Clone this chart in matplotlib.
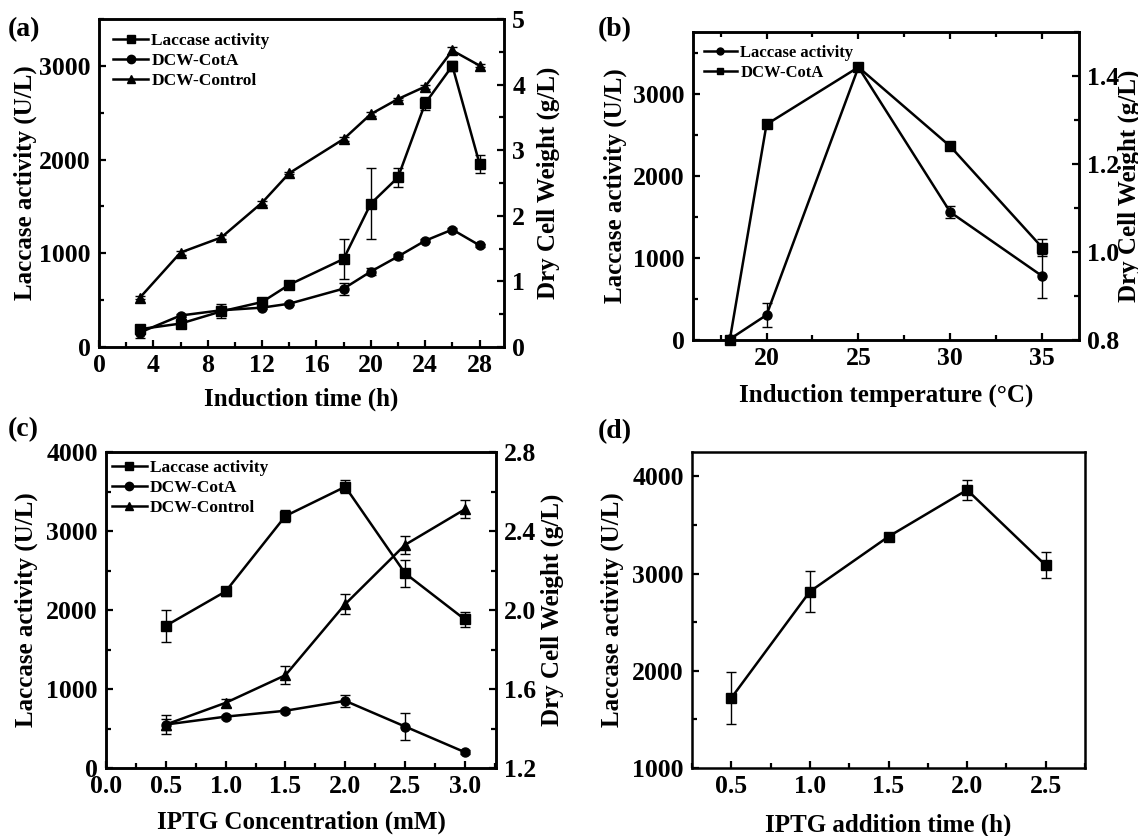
import matplotlib
matplotlib.use("Agg")
import matplotlib.pyplot as plt
from matplotlib.ticker import MultipleLocator, FormatStrFormatter
from matplotlib.lines import Line2D

plt.rcParams['font.family'] = ['Liberation Serif', 'DejaVu Serif']
plt.rcParams['font.weight'] = 'bold'
plt.rcParams['axes.labelweight'] = 'bold'

# (a) induction time
time_h = [3, 6, 9, 12, 14, 18, 20, 22, 24, 26, 28]
lac_a = [190, 250, 380, 480, 665, 940, 1530, 1810, 2600, 3000, 1955]
lac_a_err = [50, 50, 75, 25, 20, 210, 375, 100, 70, 50, 95]
cota_a = [0.22, 0.48, 0.56, 0.60, 0.66, 0.89, 1.15, 1.38, 1.62, 1.79, 1.55]
cota_a_err = [0.08, 0.03, 0.03, 0.02, 0.02, 0.09, 0.05, 0.04, 0.02, 0.02, 0.02]
ctrl_a = [0.75, 1.44, 1.67, 2.20, 2.65, 3.17, 3.55, 3.78, 3.97, 4.52, 4.29]
ctrl_a_err = [0.02, 0.03, 0.03, 0.03, 0.02, 0.03, 0.03, 0.02, 0.03, 0.05, 0.02]

# (b) induction temperature
temp_c = [18, 20, 25, 30, 35]
lac_b = [10, 305, 3330, 1560, 780]
lac_b_err = [0, 145, 40, 75, 270]
cota_b = [0.80, 1.29, 1.42, 1.24, 1.01]
cota_b_err = [0.0, 0.004, 0.006, 0.006, 0.02]

# (c) IPTG concentration
iptg_mm = [0.5, 1.0, 1.5, 2.0, 2.5, 3.0]
lac_c = [1800, 2235, 3190, 3560, 2465, 1880]
lac_c_err = [200, 60, 70, 85, 170, 90]
cota_c = [1.42, 1.46, 1.49, 1.54, 1.41, 1.28]
cota_c_err = [0.03, 0.01, 0.01, 0.03, 0.07, 0.01]
ctrl_c = [1.42, 1.53, 1.67, 2.03, 2.33, 2.51]
ctrl_c_err = [0.05, 0.02, 0.046, 0.05, 0.046, 0.045]

# (d) IPTG addition time
add_h = [0.5, 1.0, 1.5, 2.0, 2.5]
lac_d = [1720, 2815, 3380, 3860, 3085]
lac_d_err = [265, 210, 15, 105, 135]

W, H = 1138, 836
TICK_FS = 18.5
LABEL_FS = 18
fig = plt.figure(figsize=(W / 100, H / 100), dpi=100)


def make_ax(l, t, r, b):
    return fig.add_axes([l / W, 1 - b / H, (r - l) / W, (b - t) / H])


def style(ax, right=False, top=False):
    for s in ax.spines.values():
        s.set_linewidth(1.8)
    ax.tick_params(which='both', direction='in', width=1.6, labelsize=TICK_FS,
                   top=top, bottom=True, right=right, left=not right,
                   labelleft=not right, labelright=right)
    ax.tick_params(axis='y', which='both', pad=6)
    ax.tick_params(axis='x', which='both', pad=5)
    ax.tick_params(which='major', length=5)
    ax.tick_params(which='minor', length=3.5)


def series(ax, x, y, err, marker, ms=6.5):
    ax.errorbar(x, y, yerr=err, color='black', lw=1.8, marker=marker, ms=ms,
                ecolor='black', elinewidth=1.0, capsize=3.5, capthick=1.0,
                clip_on=False, zorder=3)


def leg(ax, labels, markers, x, y, fs=12.5, ms=6):
    handles = [Line2D([], [], color='black', lw=1.8, marker=m, ms=ms) for m in markers]
    ax.legend(handles, labels, loc='upper left', bbox_to_anchor=(x, y), frameon=False,
              fontsize=fs, handlelength=2.0, handletextpad=0.2, labelspacing=0.22,
              borderpad=0, borderaxespad=0)


# ---- (a)
ax = make_ax(99, 19, 504, 347)
ax2 = ax.twinx()
series(ax, time_h, lac_a, lac_a_err, 's')
series(ax2, time_h, cota_a, cota_a_err, 'o')
series(ax2, time_h, ctrl_a, ctrl_a_err, '^')
ax.set_xlim(0, 29.8)
ax.set_ylim(0, 3500)
ax2.set_ylim(0, 5)
ax.xaxis.set_major_locator(MultipleLocator(4))
ax.xaxis.set_minor_locator(MultipleLocator(2))
ax.yaxis.set_major_locator(MultipleLocator(1000))
ax.yaxis.set_minor_locator(MultipleLocator(500))
ax2.yaxis.set_major_locator(MultipleLocator(1))
ax2.yaxis.set_minor_locator(MultipleLocator(0.5))
style(ax)
style(ax2, right=True)
ax.set_xlabel('Induction time (h)', fontsize=LABEL_FS)
ax.set_ylabel('Laccase activity (U/L)', fontsize=LABEL_FS)
ax2.set_ylabel('Dry Cell Weight (g/L)', fontsize=LABEL_FS)
ax.xaxis.set_label_coords(0.5, -0.125)
ax.yaxis.set_label_coords(-0.153, 0.5)
ax2.yaxis.set_label_coords(1.081, 0.5)
leg(ax2, ['Laccase activity', 'DCW-CotA', 'DCW-Control'], ['s', 'o', '^'], 0.035, 0.958)
fig.text(8 / W, 1 - 30 / H, '(a)', fontsize=20, fontweight='bold', va='center')

# ---- (b)
ax = make_ax(693, 32, 1079, 340)
ax2 = ax.twinx()
series(ax, temp_c, lac_b, lac_b_err, 'o')
series(ax2, temp_c, cota_b, cota_b_err, 's')
ax.set_xlim(16, 37)
ax.set_ylim(0, 3760)
ax2.set_ylim(0.8, 1.5)
ax.xaxis.set_major_locator(MultipleLocator(5))
ax.xaxis.set_minor_locator(MultipleLocator(2.5))
ax.yaxis.set_major_locator(MultipleLocator(1000))
ax.yaxis.set_minor_locator(MultipleLocator(500))
ax2.yaxis.set_major_locator(MultipleLocator(0.2))
ax2.yaxis.set_minor_locator(MultipleLocator(0.1))
style(ax, top=True)
style(ax2, right=True)
ax2.yaxis.set_major_formatter(FormatStrFormatter('%.1f'))
ax.set_xlabel('Induction temperature (°C)', fontsize=LABEL_FS)
ax.set_ylabel('Laccase activity (U/L)', fontsize=LABEL_FS)
ax2.set_ylabel('Dry Cell Weight (g/L)', fontsize=LABEL_FS)
ax.xaxis.set_label_coords(0.5, -0.142)
ax.yaxis.set_label_coords(-0.171, 0.5)
ax2.yaxis.set_label_coords(1.101, 0.5)
leg(ax2, ['Laccase activity', 'DCW-CotA'], ['o', 's'], 0.028, 0.958, fs=12, ms=5)
fig.text(598 / W, 1 - 30 / H, '(b)', fontsize=20, fontweight='bold', va='center')

# ---- (c)
ax = make_ax(106, 452, 496, 768)
ax2 = ax.twinx()
series(ax, iptg_mm, lac_c, lac_c_err, 's')
series(ax2, iptg_mm, cota_c, cota_c_err, 'o')
series(ax2, iptg_mm, ctrl_c, ctrl_c_err, '^')
ax.set_xlim(0, 3.26)
ax.set_ylim(0, 4000)
ax2.set_ylim(1.2, 2.8)
ax.xaxis.set_major_locator(MultipleLocator(0.5))
ax.xaxis.set_minor_locator(MultipleLocator(0.25))
ax.yaxis.set_major_locator(MultipleLocator(1000))
ax.yaxis.set_minor_locator(MultipleLocator(500))
ax2.yaxis.set_major_locator(MultipleLocator(0.4))
ax2.yaxis.set_minor_locator(MultipleLocator(0.2))
style(ax)
style(ax2, right=True)
ax.xaxis.set_major_formatter(FormatStrFormatter('%.1f'))
ax2.yaxis.set_major_formatter(FormatStrFormatter('%.1f'))
ax.set_xlabel('IPTG Concentration (mM)', fontsize=LABEL_FS)
ax.set_ylabel('Laccase activity (U/L)', fontsize=LABEL_FS)
ax2.set_ylabel('Dry Cell Weight (g/L)', fontsize=LABEL_FS)
ax.xaxis.set_label_coords(0.5, -0.135)
ax.yaxis.set_label_coords(-0.174, 0.5)
ax2.yaxis.set_label_coords(1.115, 0.5)
leg(ax2, ['Laccase activity', 'DCW-CotA', 'DCW-Control'], ['s', 'o', '^'], 0.015, 0.975)
fig.text(8 / W, 1 - 430 / H, '(c)', fontsize=20, fontweight='bold', va='center')

# ---- (d)
ax = make_ax(692, 452, 1085, 768)
series(ax, add_h, lac_d, lac_d_err, 's')
ax.set_xlim(0.25, 2.75)
ax.set_ylim(1000, 4250)
ax.xaxis.set_major_locator(MultipleLocator(0.5))
ax.xaxis.set_minor_locator(MultipleLocator(0.25))
ax.yaxis.set_major_locator(MultipleLocator(1000))
ax.yaxis.set_minor_locator(MultipleLocator(500))
style(ax)
ax.xaxis.set_major_formatter(FormatStrFormatter('%.1f'))
ax.set_xlabel('IPTG addition time (h)', fontsize=LABEL_FS)
ax.set_ylabel('Laccase activity (U/L)', fontsize=LABEL_FS)
ax.xaxis.set_label_coords(0.5, -0.145)
ax.yaxis.set_label_coords(-0.173, 0.5)
fig.text(598 / W, 1 - 432 / H, '(d)', fontsize=20, fontweight='bold', va='center')

fig.savefig('out.png', dpi=100)
